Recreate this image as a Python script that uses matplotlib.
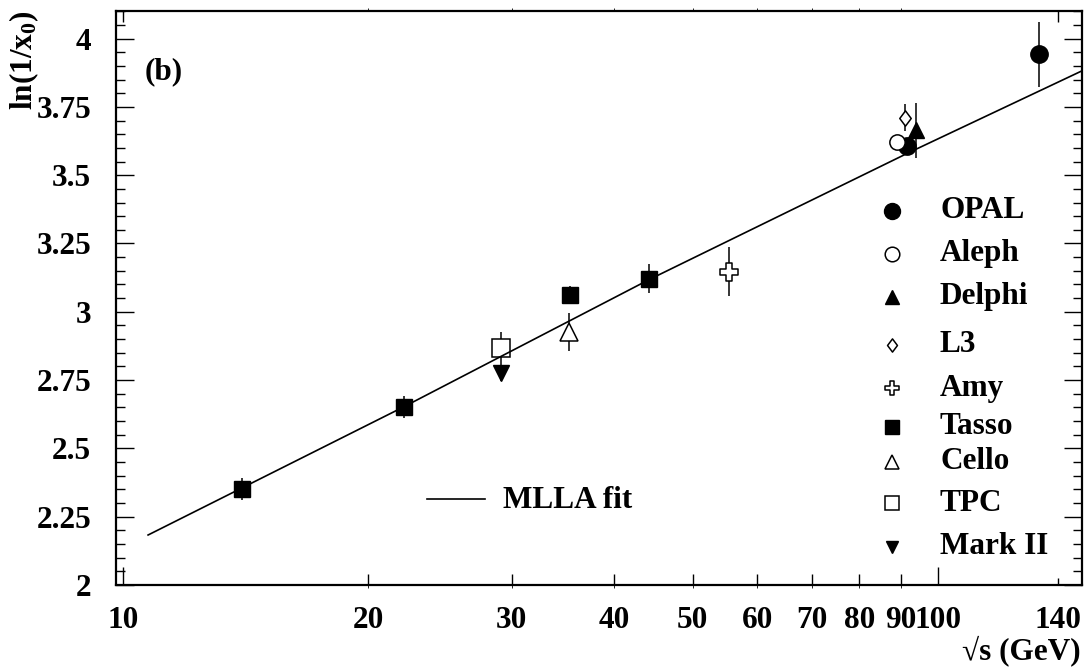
import matplotlib
matplotlib.use("Agg")
import matplotlib.pyplot as plt
from matplotlib.path import Path
from matplotlib.ticker import FixedLocator, FixedFormatter

plt.rcParams['font.family'] = ['Liberation Serif', 'DejaVu Serif']
plt.rcParams['font.weight'] = 'bold'
plt.rcParams['mathtext.fontset'] = 'custom'
plt.rcParams['mathtext.rm'] = 'Liberation Serif:bold'
plt.rcParams['mathtext.it'] = 'Liberation Serif:bold'
plt.rcParams['mathtext.bf'] = 'Liberation Serif:bold'

# ---------------- data ----------------
opal_x = [91.5, 133.0]
opal_y = [3.606, 3.943]
opal_err = [0.02, 0.119]

aleph_x = [89.0]
aleph_y = [3.621]
aleph_err = [0.01]

delphi_x = [94.0]
delphi_y = [3.664]
delphi_err = [0.10]

l3_x = [90.9]
l3_y = [3.710]
l3_err = [0.049]

amy_x = [55.3]
amy_y = [3.146]
amy_err = [0.09]

tasso_x = [14.0, 22.1, 35.3, 44.2]
tasso_y = [2.351, 2.652, 3.063, 3.121]
tasso_err = [0.041, 0.041, 0.03, 0.053]

cello_x = [35.2]
cello_y = [2.926]
cello_err = [0.071]

tpc_x = [29.1]
tpc_y = [2.866]
tpc_err = [0.061]

mark2_x = [29.1]
mark2_y = [2.775]
mark2_err = [0.03]

fit_x = [10.74, 22.1, 44.2, 91.9, 150.0]
fit_y = [2.183, 2.652, 3.118, 3.582, 3.882]

x_major = [10, 100]
x_minor = [20, 30, 40, 50, 60, 70, 80, 90]
x_extra = [140]
y_ticks = [2, 2.25, 2.5, 2.75, 3, 3.25, 3.5, 3.75, 4]
y_ticklabels = ['2', '2.25', '2.5', '2.75', '3', '3.25', '3.5', '3.75', '4']

legend_names = ['OPAL', 'Aleph', 'Delphi', 'L3', 'Amy', 'Tasso', 'Cello', 'TPC', 'Mark II']

# ---------------- markers ----------------
a = 0.33
cross_verts = [(-a, 1), (a, 1), (a, a), (1, a), (1, -a), (a, -a), (a, -1), (-a, -1),
               (-a, -a), (-1, -a), (-1, a), (-a, a), (-a, 1)]
cross_marker = Path(cross_verts, closed=True)
diamond_marker = Path([(0, 1), (0.75, 0), (0, -1), (-0.75, 0), (0, 1)], closed=True)

FS = 22.5
W, H = 1089, 668
fig = plt.figure(figsize=(W / 100, H / 100), dpi=100)
L, R, T, B = 116, 1082, 11, 585
ax = fig.add_axes([L / W, 1 - B / H, (R - L) / W, (B - T) / H])
ax.set_xscale('log')
ax.set_xlim(9.81, 150.0)
ax.set_ylim(2.0, 4.101)

for s in ax.spines.values():
    s.set_linewidth(1.6)

styles = [
    (opal_x, opal_y, opal_err, dict(marker='o', ms=12.5, mfc='black', mec='black')),
    (aleph_x, aleph_y, aleph_err, dict(marker='o', ms=11.0, mfc='white', mec='black', mew=1.1)),
    (delphi_x, delphi_y, delphi_err, dict(marker='^', ms=11.5, mfc='black', mec='black')),
    (l3_x, l3_y, l3_err, dict(marker=diamond_marker, ms=11.0, mfc='white', mec='black', mew=1.1)),
    (amy_x, amy_y, amy_err, dict(marker=cross_marker, ms=12.5, mfc='white', mec='black', mew=1.1)),
    (tasso_x, tasso_y, tasso_err, dict(marker='s', ms=12.0, mfc='black', mec='black')),
    (cello_x, cello_y, cello_err, dict(marker='^', ms=13.0, mfc='white', mec='black', mew=1.1)),
    (tpc_x, tpc_y, tpc_err, dict(marker='s', ms=12.5, mfc='white', mec='black', mew=1.1)),
    (mark2_x, mark2_y, mark2_err, dict(marker='v', ms=11.0, mfc='black', mec='black')),
]

for xs, ys, es, st in styles:
    ax.errorbar(xs, ys, yerr=es, fmt='none', ecolor='black', elinewidth=1.1, capsize=0, zorder=2)
    ax.plot(xs, ys, linestyle='none', zorder=3, **st)

ax.plot(fit_x, fit_y, color='black', lw=1.2, zorder=4)

# ---------------- ticks ----------------
ax.xaxis.set_major_locator(FixedLocator(x_major))
ax.xaxis.set_major_formatter(FixedFormatter([str(v) for v in x_major]))
ax.xaxis.set_minor_locator(FixedLocator(x_minor))
ax.xaxis.set_minor_formatter(FixedFormatter([str(v) for v in x_minor]))
ax.tick_params(axis='x', which='major', direction='in', length=13, width=1.0, pad=15, labelsize=FS)
ax.tick_params(axis='x', which='minor', direction='in', length=8, width=1.0, pad=15, labelsize=FS)

sec = ax.secondary_xaxis('bottom')
sec.set_xticks(x_extra)
sec.set_xticklabels([str(v) for v in x_extra])
sec.tick_params(direction='in', length=5, width=1.0, pad=15, labelsize=FS)
sec.spines['bottom'].set_visible(False)

top = ax.secondary_xaxis('top')
top.set_xticks([x_major[0], x_extra[0]])
top.set_xticklabels(['', ''])
top.tick_params(direction='in', length=8, width=1.0)
top.spines['top'].set_visible(False)

ax.set_yticks(y_ticks)
ax.set_yticklabels(y_ticklabels)
ax.yaxis.set_minor_locator(FixedLocator([2 + 0.05 * i for i in range(43)]))
ax.tick_params(axis='y', which='major', direction='in', length=13, width=1.0, pad=18,
               labelsize=FS, right=True)
ax.tick_params(axis='y', which='minor', direction='in', length=6.5, width=1.0, right=True)
for lab in ax.get_xticklabels(which='both') + ax.get_yticklabels() + sec.get_xticklabels():
    lab.set_fontweight('bold')

# ---------------- texts ----------------
def px(xp, yp):
    return ((xp - L) / (R - L), (B - yp) / (B - T))

ax.text(*px(145, 72), '(b)', fontsize=FS, fontweight='bold', ha='left', va='center',
        transform=ax.transAxes)
ax.text(*px(1081, 651), '\u221as (GeV)', fontsize=FS, fontweight='bold', ha='right',
        va='center', transform=ax.transAxes, clip_on=False)
ax.text(*px(24, 11), 'ln(1/x$_0$)', fontsize=FS, fontweight='bold', rotation=90, ha='center',
        va='top', transform=ax.transAxes, clip_on=False)

# legend (manual)
leg_rows = [210.7, 254, 296.7, 345, 388.3, 426.7, 461.7, 503.3, 546.7]
leg_ms = [11.5, 10.5, 10.0, 9.5, 10.0, 10.5, 10.5, 10.5, 8.5]
for (xs, ys, es, st), name, yr, ms in zip(styles, legend_names, leg_rows, leg_ms):
    st2 = dict(st)
    st2['ms'] = ms
    ax.plot(*px(892, yr), linestyle='none', transform=ax.transAxes, clip_on=False, **st2)
    ax.text(*px(940, yr), name, fontsize=FS, fontweight='bold', ha='left', va='center',
            transform=ax.transAxes)

x0, y0 = px(427, 498.5)
x1, _ = px(485, 498.5)
ax.plot([x0, x1], [y0, y0], color='black', lw=1.2, transform=ax.transAxes)
ax.text(*px(503, 500), 'MLLA fit', fontsize=FS, fontweight='bold', ha='left', va='center',
        transform=ax.transAxes)

fig.savefig('out.png', dpi=100)
